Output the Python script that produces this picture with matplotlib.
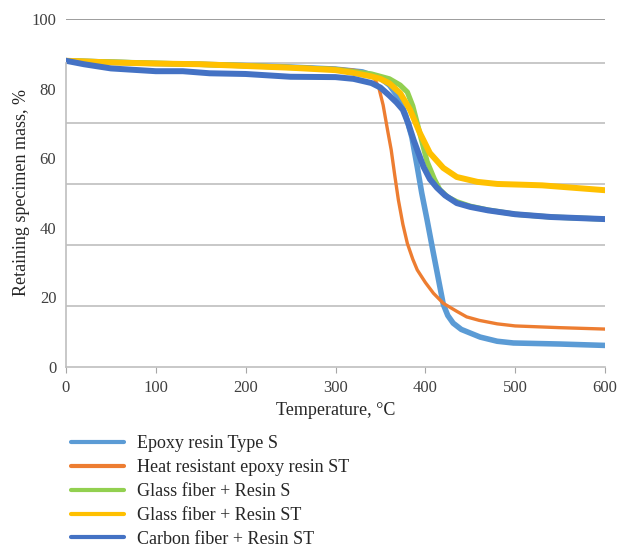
import numpy as np
import matplotlib.pyplot as plt

plt.rcParams['font.family'] = ['Liberation Serif', 'DejaVu Serif']

# Epoxy resin Type S
t_epoxy = [0, 50, 100, 150, 200, 250, 300, 330, 350, 360, 370, 378, 385, 391, 396, 402, 408, 414, 420, 425, 431, 440, 461, 480, 498, 550, 600]
m_epoxy = [88, 87.6, 87.2, 87, 86.6, 86.2, 85.6, 84.8, 83, 81, 77.5, 72.5, 66, 57.5, 50, 42.2, 34, 26, 18, 14.8, 12.6, 10.8, 8.6, 7.4, 6.9, 6.6, 6.2]

# Heat resistant epoxy resin ST
t_heat = [0, 50, 100, 150, 200, 250, 300, 320, 335, 342, 348, 353, 358, 362, 366, 370, 375, 380, 386, 391, 400, 409, 420, 435, 446, 460, 480, 500, 550, 600]
m_heat = [88, 87.6, 87.3, 87, 86.7, 86.3, 85.8, 85.3, 84.5, 83.5, 80.5, 75.3, 68, 62.4, 55, 48, 41, 35.5, 31, 27.9, 24.3, 21.2, 18.3, 16, 14.4, 13.4, 12.4, 11.8, 11.3, 10.9]

# Glass fiber + Resin S
t_glass_s = [0, 100, 200, 300, 340, 360, 372, 380, 386, 395, 402, 410, 416, 425, 435, 450, 470, 500, 540, 600]
m_glass_s = [88, 87.3, 86.6, 85.5, 84.2, 82.8, 81, 79, 75, 66, 59, 54, 51, 48.8, 47.5, 46.2, 45.1, 43.9, 43.1, 42.5]

# Glass fiber + Resin ST
t_glass_st = [0, 50, 100, 150, 200, 250, 300, 320, 340, 350, 360, 372, 383, 394, 405, 420, 435, 458, 480, 506, 530, 560, 600]
m_glass_st = [88, 87.5, 87.2, 87, 86.5, 86, 85.3, 84.5, 83.5, 82.8, 81.5, 78.7, 73.9, 67.2, 61.5, 57.2, 54.6, 53.2, 52.6, 52.4, 52.2, 51.6, 50.8]

# Carbon fiber + Resin ST
t_carbon = [0, 20, 50, 100, 130, 160, 200, 250, 300, 320, 340, 350, 360, 368, 375, 381, 387, 393, 398, 405, 413, 422, 435, 450, 470, 500, 540, 570, 600]
m_carbon = [88, 87, 85.8, 85, 85, 84.4, 84.2, 83.4, 83.3, 82.8, 81.6, 80.3, 78, 76, 73.9, 70, 65.2, 61, 57.5, 54, 51.5, 49.3, 47.1, 46, 45, 43.9, 43.1, 42.8, 42.5]

labels = ["Epoxy resin Type S", "Heat resistant epoxy resin ST",
          "Glass fiber + Resin S", "Glass fiber + Resin ST", "Carbon fiber + Resin ST"]
colors = ['#5B9BD5', '#ED7D31', '#92D050', '#FFC000', '#4472C4']
grid_levels = [17.5, 35, 52.5, 70, 87.5]

fig = plt.figure(figsize=(6.18, 5.49), dpi=100)
ax = fig.add_axes([66/618, 1-367/549, 539/618, 348/549])

series = [(t_epoxy, m_epoxy, 4.0), (t_heat, m_heat, 2.4), (t_glass_s, m_glass_s, 3.8),
          (t_glass_st, m_glass_st, 4.3), (t_carbon, m_carbon, 4.3)]
for (t, m, lw), c, lab in zip(series, colors, labels):
    ax.plot(t, m, color=c, lw=lw, label=lab, solid_capstyle='round', solid_joinstyle='round')

for g in grid_levels:
    ax.axhline(g, color='#BFBFBF', lw=1.2, zorder=0)
ax.axhline(100, color='#8C8C8C', lw=1.2, zorder=0)

ax.set_xlim(0, 600)
ax.set_ylim(0, 100)
ax.set_xticks(np.arange(0, 601, 100))
ax.set_yticks(np.arange(0, 101, 20))
ax.tick_params(axis='x', length=4, color='#A6A6A6', labelsize=12, labelcolor='#404040', pad=5)
ax.tick_params(axis='y', length=0, labelsize=12, labelcolor='#404040', pad=7)
for s in ['top', 'right']:
    ax.spines[s].set_visible(False)
ax.spines['left'].set_color('#BFBFBF')
ax.spines['left'].set_bounds(0, 87.5)
ax.spines['bottom'].set_color('#BFBFBF')
ax.spines['left'].set_linewidth(1.2)
ax.spines['bottom'].set_linewidth(1.2)

ax.set_xlabel("Temperature, \u00b0C", fontsize=13, color='#262626', labelpad=5)
ax.set_ylabel("Retaining specimen mass, %", fontsize=13, color='#262626', labelpad=1)

handles, labs = ax.get_legend_handles_labels()
leg = fig.legend(handles, labs, loc='upper left', bbox_to_anchor=(55/618, 1-419/549),
                 frameon=False, fontsize=13, handlelength=2.9, handletextpad=0.75,
                 labelspacing=0.38)
for h in leg.get_lines():
    h.set_linewidth(3)
for txt in leg.get_texts():
    txt.set_color('#262626')

fig.savefig('out.png', dpi=100)
